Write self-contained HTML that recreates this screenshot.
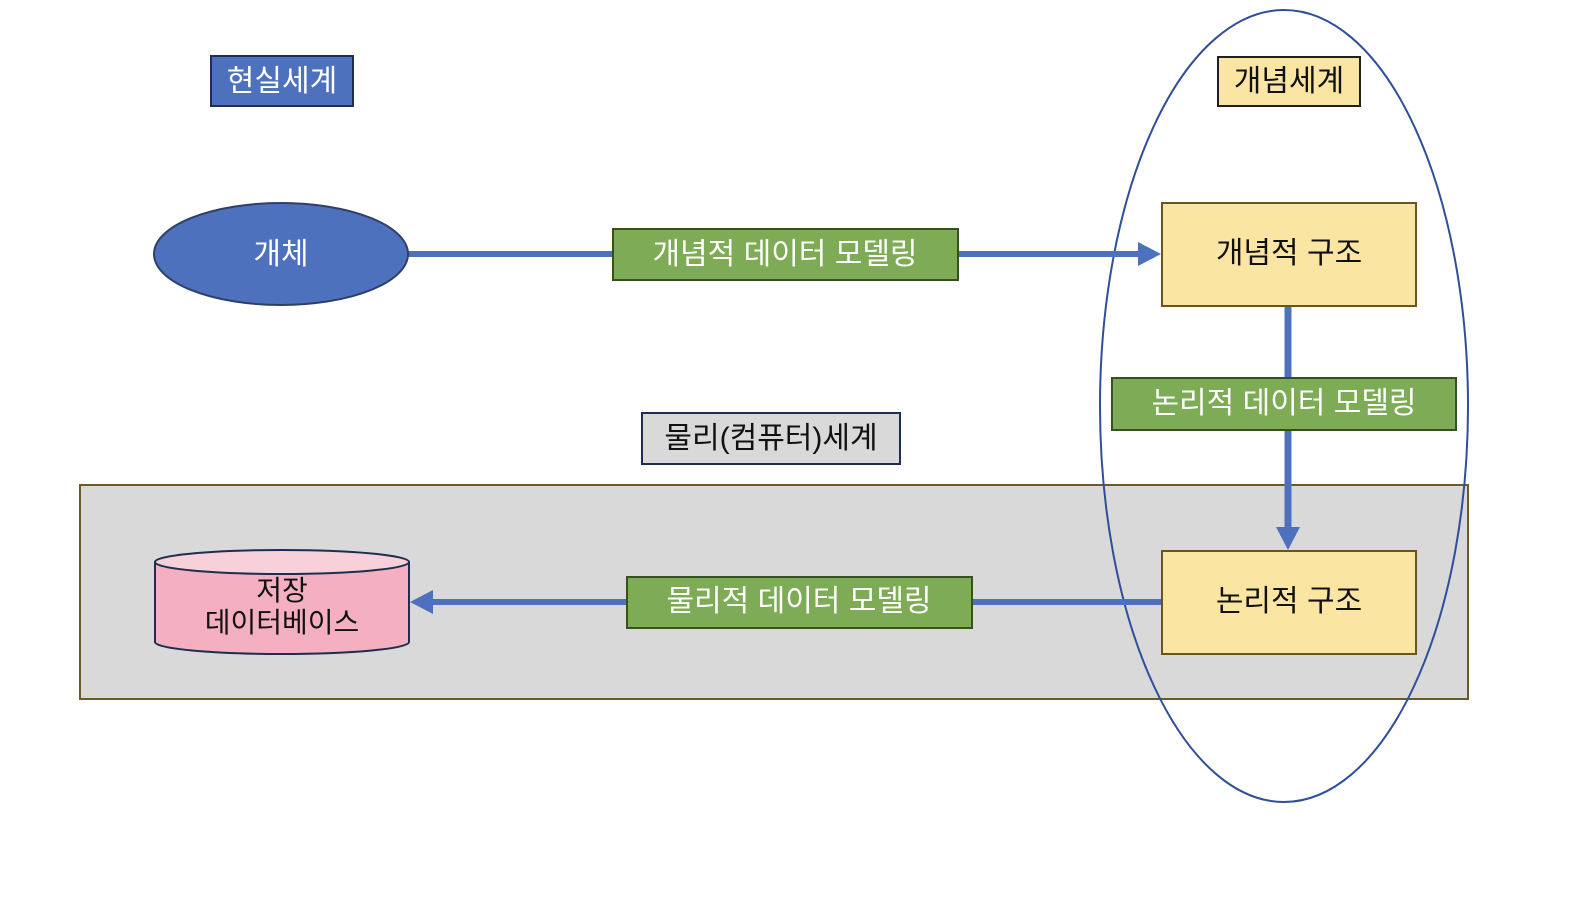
<!DOCTYPE html>
<html><head><meta charset="utf-8"><style>
html,body{margin:0;padding:0;background:#fff;}
svg text{font-family:"Liberation Sans","Noto Sans CJK KR",sans-serif;}
</style></head><body>
<svg width="1591" height="892" viewBox="0 0 1591 892" xmlns="http://www.w3.org/2000/svg">
<rect x="0" y="0" width="1591" height="892" fill="#fff"/>
<rect x="80" y="485" width="1388" height="214" fill="#d9d9d9" stroke="#6b5a2a" stroke-width="2"/>
<ellipse cx="1284" cy="406" rx="184" ry="396" fill="none" stroke="#2f4f9a" stroke-width="2"/>

<rect x="211" y="56" width="142" height="50" fill="#4e71be" stroke="#1f2d4f" stroke-width="2"/>
<text x="282" y="91" font-size="30" fill="#fff" text-anchor="middle">현실세계</text>
<rect x="1218" y="57" width="142" height="49" fill="#fbe5a3" stroke="#1f1f1f" stroke-width="2"/>
<text x="1289" y="91" font-size="30" fill="#111" text-anchor="middle">개념세계</text>

<line x1="408" y1="254" x2="1142" y2="254" stroke="#4e71be" stroke-width="6"/>
<polygon points="1138,242 1161,254 1138,266" fill="#4e71be"/>
<ellipse cx="281" cy="254" rx="127" ry="51" fill="#4e71be" stroke="#2f3f6a" stroke-width="2"/>
<text x="281" y="264" font-size="30" fill="#fff" text-anchor="middle">개체</text>
<rect x="613" y="229" width="345" height="51" fill="#7eab55" stroke="#34511f" stroke-width="2"/>
<text x="785" y="264" font-size="30" fill="#fff" text-anchor="middle">개념적 데이터 모델링</text>

<line x1="1288" y1="306" x2="1288" y2="530" stroke="#4e71be" stroke-width="7"/>
<polygon points="1276,527 1300,527 1288,550" fill="#4e71be"/>
<rect x="1162" y="203" width="254" height="103" fill="#fbe5a3" stroke="#6b5420" stroke-width="2"/>
<text x="1289" y="263" font-size="30" fill="#111" text-anchor="middle">개념적 구조</text>
<rect x="1112" y="378" width="344" height="52" fill="#7eab55" stroke="#34511f" stroke-width="2"/>
<text x="1284" y="413" font-size="30" fill="#fff" text-anchor="middle">논리적 데이터 모델링</text>

<rect x="642" y="413" width="258" height="51" fill="#d9d9d9" stroke="#1f2d4f" stroke-width="2"/>
<text x="771" y="448" font-size="30" fill="#111" text-anchor="middle">물리(컴퓨터)세계</text>

<line x1="1162" y1="602" x2="430" y2="602" stroke="#4e71be" stroke-width="6"/>
<polygon points="433,590 410,602 433,614" fill="#4e71be"/>
<rect x="1162" y="551" width="254" height="103" fill="#fbe5a3" stroke="#6b5420" stroke-width="2"/>
<text x="1289" y="611" font-size="30" fill="#111" text-anchor="middle">논리적 구조</text>
<rect x="627" y="577" width="345" height="51" fill="#7eab55" stroke="#34511f" stroke-width="2"/>
<text x="799" y="611" font-size="30" fill="#fff" text-anchor="middle">물리적 데이터 모델링</text>

<path d="M155,562 L155,642 A127,12 0 0 0 409,642 L409,562" fill="#f4afc0" stroke="#1f2d4f" stroke-width="2"/>
<ellipse cx="282" cy="562" rx="127" ry="12" fill="#f7d0da" stroke="#1f2d4f" stroke-width="2"/>
<text x="282" y="600" font-size="28" fill="#111" text-anchor="middle">저장</text>
<text x="282" y="632" font-size="28" fill="#111" text-anchor="middle">데이터베이스</text>
</svg>
</body></html>
